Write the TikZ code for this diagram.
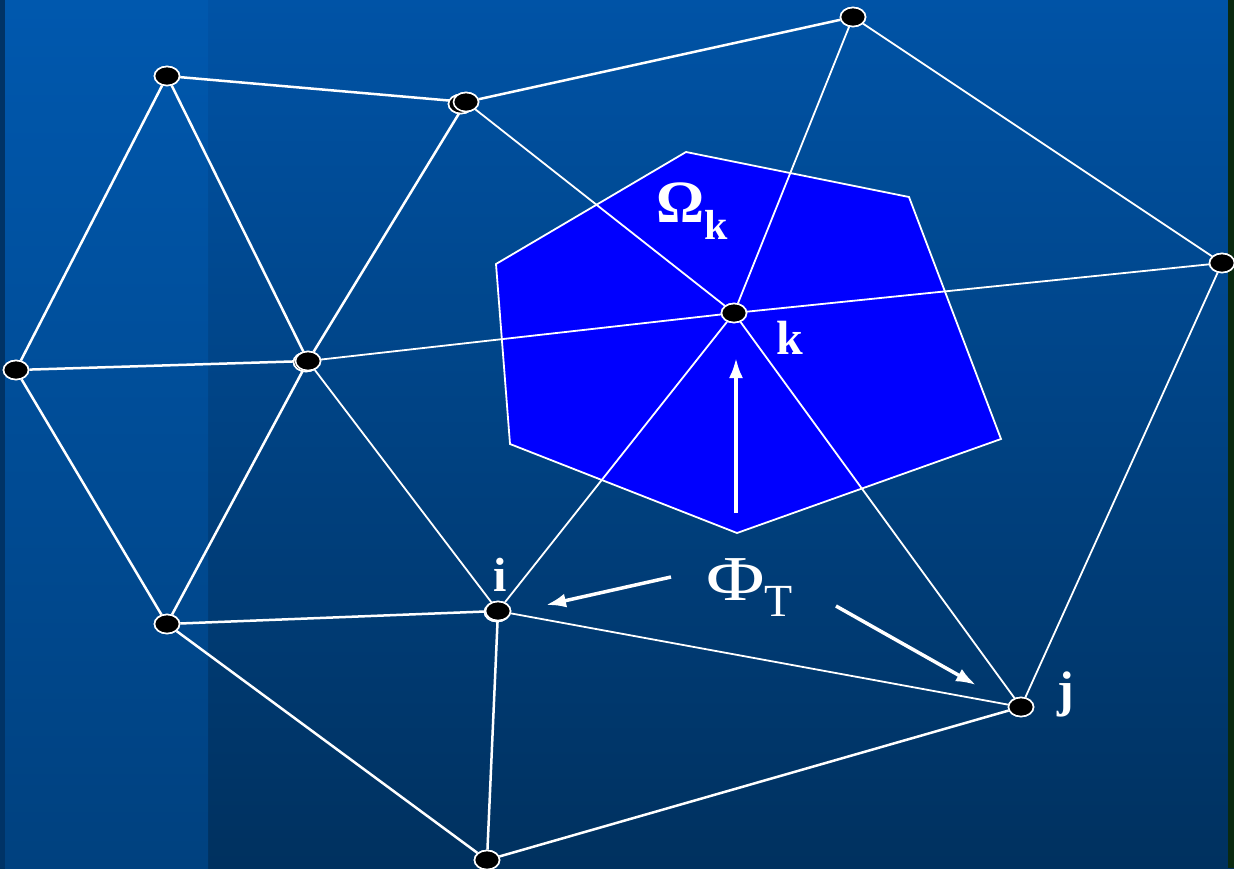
\documentclass[tikz,border=0pt]{standalone}
\usepackage{fontspec}
\setmainfont{Liberation Serif}
\usetikzlibrary{shapes.geometric,arrows.meta}
\definecolor{bgtop}{HTML}{0053A6}
\definecolor{bgbot}{HTML}{00315F}
\definecolor{striptop}{HTML}{0058AE}
\definecolor{stripbot}{HTML}{00417F}
\definecolor{edgedark}{HTML}{003366}
\definecolor{greenedge}{HTML}{0A2A10}
\definecolor{hexblue}{HTML}{0000FF}
\tikzset{
  pt/.style={ellipse,fill=black,draw=white,line width=1.6pt,minimum width=25pt,minimum height=19pt,inner sep=0pt},
  mesh/.style={draw=white,line width=2.5pt},
  thinmesh/.style={draw=white,line width=1.8pt},
  bigarrow/.style={draw=white,line width=3.5pt,-{Latex[length=20pt,width=14pt]}},
  lbl/.style={text=white,inner sep=0pt}
}
\begin{document}
\begin{tikzpicture}[x=1pt,y=-1pt]
\useasboundingbox (0,0) rectangle (1234,868);
% background
\shade[top color=bgtop,bottom color=bgbot] (0,0) rectangle (1234,868);
\shade[top color=striptop,bottom color=stripbot] (5,0) rectangle (208,868);
\fill[edgedark] (0,0) rectangle (5,868);
\fill[greenedge] (1228,0) rectangle (1234,868);
% hexagon
\fill[hexblue,draw=white,line width=1.8pt] (686,152) -- (909,197) -- (1001,439) -- (737,533) -- (510,444) -- (496,264) -- cycle;
% nodes
\node[pt] (A) at (167,76) {};
\node[pt] (B2) at (461,104) {};
\node[pt] (B) at (466,102) {};
\node[pt] (C) at (853,17) {};
\node[pt] (D) at (1222,263) {};
\node[pt] (E) at (16,370) {};
\node[pt] (F2) at (306,362) {};
\node[pt] (F) at (308,361) {};
\node[pt] (K) at (734,313) {};
\node[pt] (I2) at (497,612) {};
\node[pt] (I) at (498,611) {};
\node[pt] (G) at (167,624) {};
\node[pt] (J) at (1021,707) {};
\node[pt] (L) at (487,860) {};
% edges
\path[mesh] (A) -- (B) (B) -- (C) (A) -- (E) (A) -- (F) (B) -- (F) (E) -- (F) (E) -- (G) (F) -- (G) (G) -- (I) (G) -- (L) (I) -- (L) (J) -- (L);
\path[thinmesh] (C) -- (D) (B) -- (K) (C) -- (K) (D) -- (K) (D) -- (J) (F) -- (K) (F) -- (I) (K) -- (I) (K) -- (J) (I) -- (J);
% redraw nodes on top
\foreach \n in {A,B2,B,C,D,E,F2,F,K,I2,I,G,J,L} {\node[pt] at (\n) {};}
% labels
\node[lbl,anchor=base west] (omega) at (656,222) {\fontsize{60}{60}\selectfont\bfseries Ω\raisebox{-17pt}{\fontsize{42}{42}\selectfont k}};
\node[lbl,anchor=base west] (klbl) at (776,354) {\fontsize{48}{48}\selectfont\bfseries k};
\node[lbl,anchor=base] (ilbl) at (500,591) {\fontsize{48}{48}\selectfont\bfseries i};
\node[lbl,anchor=base] (jlbl) at (1066,706) {\fontsize{50}{50}\selectfont\bfseries j};
\node[lbl,anchor=base west] (phi) at (706,600) {\fontsize{64}{64}\selectfont\scalebox{1.25}[1]{Φ}\raisebox{-16pt}{\fontsize{46}{46}\selectfont T}};
% arrows
\coordinate (a1s) at (736,513); \coordinate (a1e) at (736,358);
\coordinate (a2s) at (671,577); \coordinate (a2e) at (546,605);
\coordinate (a3s) at (836,606); \coordinate (a3e) at (976,685);
\draw[bigarrow] (a1s) -- (a1e);
\draw[bigarrow] (a2s) -- (a2e);
\draw[bigarrow] (a3s) -- (a3e);
\end{tikzpicture}
\end{document}
